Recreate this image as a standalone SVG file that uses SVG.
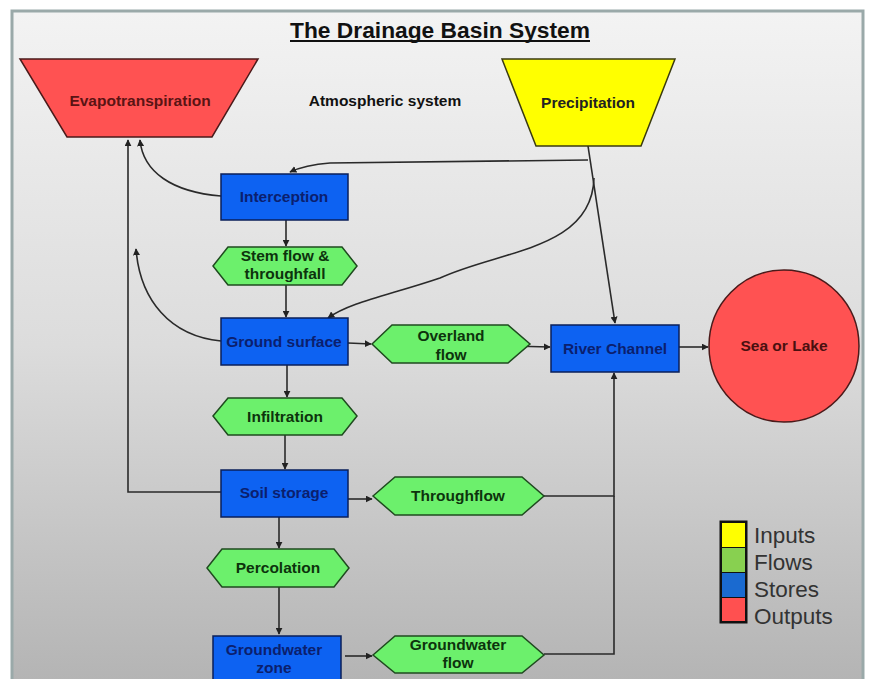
<svg xmlns="http://www.w3.org/2000/svg" width="873" height="679" viewBox="0 0 873 679">
<defs>
<linearGradient id="bg" x1="0" y1="0" x2="0" y2="1">
<stop offset="0" stop-color="#f3f3f3"/>
<stop offset="0.5" stop-color="#dcdcdc"/>
<stop offset="1" stop-color="#b4b4b4"/>
</linearGradient>
<marker id="ah" viewBox="0 0 10 10" refX="9" refY="5" markerWidth="7" markerHeight="7" orient="auto" markerUnits="userSpaceOnUse">
<path d="M0,0 L10,5 L0,10 z" fill="#222"/>
</marker>
</defs>
<style>
.lbl{font-family:"Liberation Sans",Arial,sans-serif;font-weight:bold;font-size:15.5px;text-anchor:middle}
.store{fill:#0d62f2;stroke:#0a1f5a;stroke-width:1.5}
.store-t{fill:#0b1f6e}
.flow{fill:#6cf06c;stroke:#1f4a1f;stroke-width:1.5}
.flow-t{fill:#0d330d}
.conn path{fill:none;stroke:#2a2a2a;stroke-width:1.6;marker-end:url(#ah)}
.conn path.nm{marker-end:none}
.leg{font-family:"Liberation Sans",Arial,sans-serif;font-size:22.5px;fill:#333}
</style>
<rect x="0" y="0" width="873" height="679" fill="#ffffff"/>
<rect x="12" y="11" width="851" height="670" fill="url(#bg)" stroke="#9aa9a9" stroke-width="3"/>
<text x="440" y="38" font-family="'Liberation Sans Narrow','Liberation Sans',Arial,sans-serif" font-weight="bold" font-size="22" text-anchor="middle" textLength="300" lengthAdjust="spacingAndGlyphs" fill="#111">The Drainage Basin System</text>
<line x1="290" y1="41" x2="590" y2="41" stroke="#111" stroke-width="2"/>
<text x="385" y="106" class="lbl" fill="#111">Atmospheric system</text>

<g class="conn">
<path d="M588,160 L330,163 Q305,165 290,172"/>
<path d="M588,146 L615,323"/>
<path d="M594,178 C592,250 500,250 440,278 C390,295 350,302 328,318"/>
<path d="M221,196 C172,192 143,172 140,140"/>
<path d="M221,341 C170,336 140,300 136,249"/>
<path d="M221,492 L128,492 L128,140"/>
<path d="M286,220 L286,246"/>
<path d="M286,285 L286,317"/>
<path d="M348,343 L371,344"/>
<path d="M510,346 L550,347"/>
<path d="M679,347 L708,347"/>
<path d="M287,365 L287,397"/>
<path d="M285,435 L285,469"/>
<path d="M345,499 L372,499"/>
<path d="M544,496 L614,496 L614,373"/>
<path d="M279,517 L279,548"/>
<path d="M279,587 L279,634"/>
<path d="M345,656 L372,656"/>
<path class="nm" d="M544,654 L614,654 L614,496"/>
</g>

<g id="evapotranspiration">
<polygon points="20,59 258,59 212,137 67,137" fill="#ff5252" stroke="#4a1a1a" stroke-width="1.5"/>
<text x="140" y="106" class="lbl" fill="#5a1414">Evapotranspiration</text>
</g>
<g id="precipitation">
<polygon points="502,59 675,59 641,146 536,146" fill="#ffff00" stroke="#3a3a10" stroke-width="1.5"/>
<text x="588" y="108" class="lbl" fill="#222">Precipitation</text>
</g>
<g id="interception">
<rect x="221" y="174" width="127" height="46" class="store"/>
<text x="284" y="202" class="lbl store-t">Interception</text>
</g>
<g id="stemflow">
<polygon points="213,266 228,247 342,247 357,266 342,285 228,285" class="flow"/>
<text x="285" y="261" class="lbl flow-t">Stem flow &amp;</text>
<text x="285" y="279" class="lbl flow-t">throughfall</text>
</g>
<g id="ground-surface">
<rect x="221" y="318" width="127" height="47" class="store"/>
<text x="284" y="347" class="lbl store-t">Ground surface</text>
</g>
<g id="overland-flow">
<polygon points="372,344 392,325 508,325 530,344 508,363 392,363" class="flow"/>
<text x="451" y="341" class="lbl flow-t">Overland</text>
<text x="451" y="360" class="lbl flow-t">flow</text>
</g>
<g id="river-channel">
<rect x="551" y="325" width="128" height="47" class="store"/>
<text x="615" y="354" class="lbl store-t">River Channel</text>
</g>
<g id="sea-or-lake">
<ellipse cx="784" cy="346" rx="75" ry="76" fill="#ff5252" stroke="#4a1a1a" stroke-width="1.5"/>
<text x="784" y="351" class="lbl" fill="#4a1010">Sea or Lake</text>
</g>
<g id="infiltration">
<polygon points="213,416 228,398 342,398 357,416 342,435 228,435" class="flow"/>
<text x="285" y="422" class="lbl flow-t">Infiltration</text>
</g>
<g id="soil-storage">
<rect x="221" y="470" width="127" height="47" class="store"/>
<text x="284" y="498" class="lbl store-t">Soil storage</text>
</g>
<g id="throughflow">
<polygon points="373,496 395,477 522,477 544,496 522,515 395,515" class="flow"/>
<text x="458" y="501" class="lbl flow-t">Throughflow</text>
</g>
<g id="percolation">
<polygon points="207,568 222,549 334,549 349,568 334,587 222,587" class="flow"/>
<text x="278" y="573" class="lbl flow-t">Percolation</text>
</g>
<g id="groundwater-zone">
<rect x="213" y="636" width="128" height="50" class="store"/>
<text x="274" y="655" class="lbl store-t">Groundwater</text>
<text x="274" y="673" class="lbl store-t">zone</text>
</g>
<g id="groundwater-flow">
<polygon points="373,655 395,636 522,636 544,655 522,673 395,673" class="flow"/>
<text x="458" y="650" class="lbl flow-t">Groundwater</text>
<text x="458" y="668" class="lbl flow-t">flow</text>
</g>
<g id="legend">
<rect x="721" y="522" width="25" height="100" fill="none" stroke="#111" stroke-width="3"/>
<rect x="722" y="523" width="23" height="24" fill="#ffff00"/>
<rect x="722" y="548" width="23" height="24" fill="#88d050"/>
<rect x="722" y="573" width="23" height="24" fill="#1a6ad0"/>
<rect x="722" y="598" width="23" height="23" fill="#ff5050"/>
<line x1="721" y1="547.5" x2="746" y2="547.5" stroke="#111" stroke-width="1"/>
<line x1="721" y1="572.5" x2="746" y2="572.5" stroke="#111" stroke-width="1"/>
<line x1="721" y1="597.5" x2="746" y2="597.5" stroke="#111" stroke-width="1"/>
<text x="754" y="543" class="leg">Inputs</text>
<text x="754" y="570" class="leg">Flows</text>
<text x="754" y="597" class="leg">Stores</text>
<text x="754" y="624" class="leg">Outputs</text>
</g>
</svg>
